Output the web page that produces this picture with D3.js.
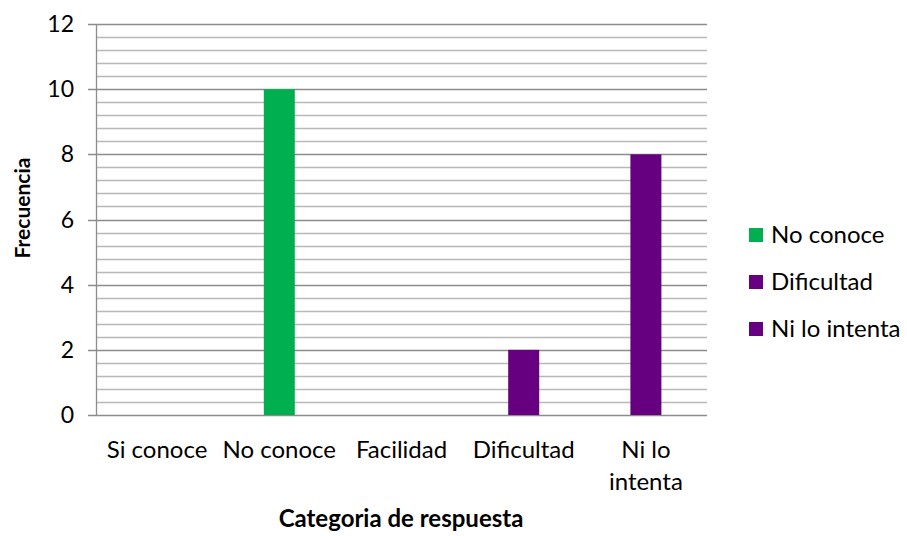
<!DOCTYPE html>
<html><head><meta charset="utf-8">
<script src="https://cdn.jsdelivr.net/npm/d3@7"></script>
<style>body{margin:0;background:#fff}svg{display:block}text{font-family:Lato,"Open Sans",sans-serif;fill:#000}</style>
</head><body><svg id="c" width="907" height="536"></svg>
<script>
const categories = ["Si conoce","No conoce","Facilidad","Dificultad","Ni lo intenta"];
const seriesNames = ["No conoce","Dificultad","Ni lo intenta"];
const seriesColors = ["#00B050","#660080","#660080"];
const seriesValues = [
  [0,10,0,0,0],
  [0,0,0,2,0],
  [0,0,0,0,8]
];
const yTicks = [0,2,4,6,8,10,12];
const minorStep = 0.4;

const svg = d3.select("#c");
const L=96,R=707,T=24,B=415;
const x = d3.scaleBand().domain(categories).range([L,R]);
const y = d3.scaleLinear().domain([0,12]).range([B,T]);

const minor = d3.range(0,12.0001,minorStep).filter(v=>Math.abs(v/2-Math.round(v/2))>1e-6);
svg.append("g").selectAll("line").data(minor).join("line")
 .attr("x1",L).attr("x2",R).attr("y1",d=>Math.round(y(d))+0.5).attr("y2",d=>Math.round(y(d))+0.5)
 .attr("stroke","#b8b8b8").attr("stroke-width",1.3);
svg.append("g").selectAll("line").data(yTicks).join("line")
 .attr("x1",L-8).attr("x2",R).attr("y1",d=>Math.round(y(d))+0.5).attr("y2",d=>Math.round(y(d))+0.5)
 .attr("stroke","#8c8c8c").attr("stroke-width",1.3);
svg.append("line").attr("x1",L+0.5).attr("x2",L+0.5).attr("y1",T).attr("y2",B+0.5).attr("stroke","#8c8c8c").attr("stroke-width",1.3);

svg.append("g").selectAll("text").data(yTicks).join("text")
 .attr("x",74).attr("y",d=>y(d)).attr("dy","0.35em").attr("text-anchor","end")
 .attr("font-size",23).text(d=>d);

const bw = 31;
seriesValues.forEach((vals,si)=>{
  svg.append("g").selectAll("rect").data(vals.map((v,i)=>({v,c:categories[i]})).filter(d=>d.v>0)).join("rect")
   .attr("x",d=>x(d.c)+x.bandwidth()/2-bw/2).attr("width",bw)
   .attr("y",d=>y(d.v)).attr("height",d=>y(0)-y(d.v))
   .attr("fill",seriesColors[si]);
});

const xl = svg.append("g");
categories.forEach(c=>{
  const cx = x(c)+x.bandwidth()/2;
  const lines = c==="Ni lo intenta" ? ["Ni lo","intenta"] : [c];
  lines.forEach((t,i)=>xl.append("text").attr("x",cx).attr("y",458+i*32).attr("text-anchor","middle").attr("font-size",24).text(t));
});

svg.append("text").attr("x",401).attr("y",527).attr("text-anchor","middle").attr("font-size",24).attr("font-weight","bold").text("Categoria de respuesta");
svg.append("text").attr("transform","translate(30,208) rotate(-90)").attr("text-anchor","middle").attr("font-size",21).attr("font-weight","bold").text("Frecuencia");

const lg = svg.append("g");
seriesNames.forEach((n,i)=>{
  const cy = 235+i*47;
  lg.append("rect").attr("x",749).attr("y",cy-7).attr("width",14).attr("height",14).attr("fill",seriesColors[i]);
  lg.append("text").attr("x",771).attr("y",cy).attr("dy","0.35em").attr("font-size",24).text(n);
});
</script></body></html>
